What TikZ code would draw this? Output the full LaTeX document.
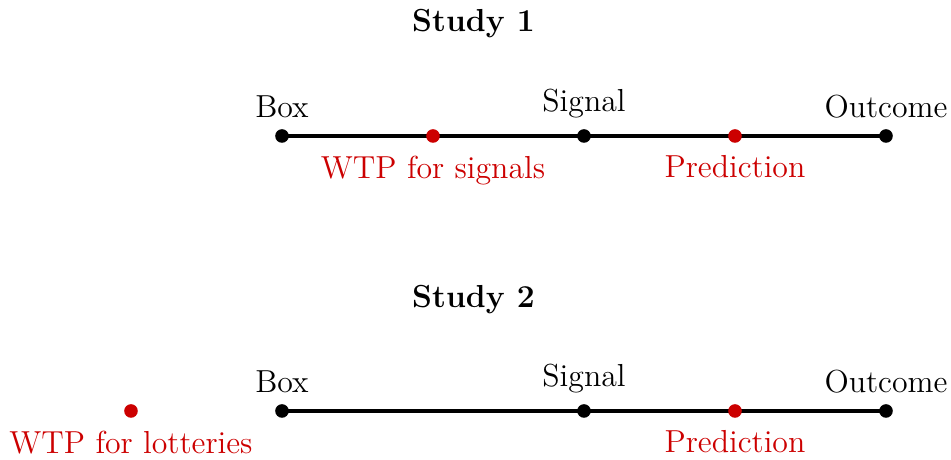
\documentclass[tikz,border=0pt]{standalone}
\usepackage{tikz}
\usepackage{xcolor}
\usetikzlibrary{positioning, backgrounds}
\definecolor{darkred}{RGB}{204,0,0}

\begin{document}
\begin{tikzpicture}[
  dot/.style={circle, fill=black, inner sep=0pt, minimum size=0.18cm},
  reddot/.style={circle, fill=darkred, inner sep=0pt, minimum size=0.18cm},
  lab/.style={font=\large},
  redlab/.style={font=\large, text=darkred},
  timeline/.style={line width=1.5pt}
]
\useasboundingbox (-3.735,-4.291) rectangle (8.861,1.801);

% Study 1
\node[font=\large\bfseries] (title1) at (2.536,1.49) {Study 1};
\node[dot] (box1) at (0,0) {};
\node[reddot] (wtp1) at (2,0) {};
\node[dot] (sig1) at (4,0) {};
\node[reddot] (pred1) at (6,0) {};
\node[dot] (out1) at (8,0) {};
\begin{pgfonlayer}{background}
\draw[timeline] (box1.center)--(wtp1.center)--(sig1.center)--(pred1.center)--(out1.center);
\end{pgfonlayer}
\node[lab, above=0.02cm of box1] (boxlab1) {Box};
\node[lab, above=0.02cm of sig1] (siglab1) {Signal};
\node[lab, above=0.02cm of out1] (outlab1) {Outcome};
\node[redlab, below=0.04cm of wtp1] (wtplab1) {WTP for signals};
\node[redlab, below=0.04cm of pred1] (predlab1) {Prediction};

% Study 2
\node[font=\large\bfseries] (title2) at (2.536,-2.17) {Study 2};
\node[reddot] (wtp2) at (-2,-3.642) {};
\node[dot] (box2) at (0,-3.642) {};
\node[dot] (sig2) at (4,-3.642) {};
\node[reddot] (pred2) at (6,-3.642) {};
\node[dot] (out2) at (8,-3.642) {};
\begin{pgfonlayer}{background}
\draw[timeline] (box2.center)--(sig2.center)--(pred2.center)--(out2.center);
\end{pgfonlayer}
\node[lab, above=0.02cm of box2] (boxlab2) {Box};
\node[lab, above=0.02cm of sig2] (siglab2) {Signal};
\node[lab, above=0.02cm of out2] (outlab2) {Outcome};
\node[redlab, below=0.04cm of wtp2] (wtplab2) {WTP for lotteries};
\node[redlab, below=0.04cm of pred2] (predlab2) {Prediction};
\end{tikzpicture}
\end{document}
